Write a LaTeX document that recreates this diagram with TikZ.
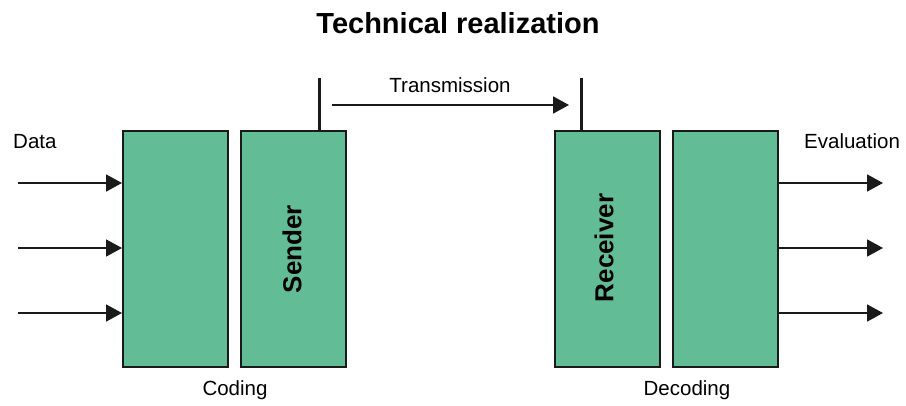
\documentclass[tikz,border=0pt]{standalone}
\usepackage{fontspec}
\setmainfont{Liberation Sans}
\usetikzlibrary{arrows.meta}
\definecolor{boxgreen}{RGB}{98,189,151}
\definecolor{ink}{RGB}{26,26,26}
\tikzset{
  block/.style={draw=ink, line width=2pt, fill=boxgreen, rectangle, inner sep=0pt,
    minimum width=105pt, minimum height=236pt},
  lbl/.style={inner sep=0pt, anchor=base, font=\fontsize{20.5}{24}\selectfont},
  vlbl/.style={inner sep=0pt, rotate=90, font=\fontsize{26}{30}\selectfont\bfseries},
  flow/.style={draw=ink, line width=1.8pt, -{Triangle[length=16pt,width=17pt]}},
  antenna/.style={draw=ink, line width=3pt}
}
\begin{document}
\begin{tikzpicture}[x=1pt,y=-1pt]
\useasboundingbox (0,0) rectangle (906,405);
\node[inner sep=0pt, anchor=base, font=\fontsize{29}{34}\selectfont\bfseries] (title) at (458,33) {Technical realization};
\node[block] (b1) at (175.5,249) {};
\node[block] (b2) at (293,249) {};
\node[block] (b3) at (607,249) {};
\node[block] (b4) at (725,249) {};
\node[vlbl] (snd) at (292,249) {Sender};
\node[vlbl] (rcv) at (604,248) {Receiver};
\node[lbl, anchor=base west] (data) at (13,148) {Data};
\node[lbl, anchor=base west] (eval) at (804,148) {Evaluation};
\node[lbl] (trans) at (450,92) {Transmission};
\node[lbl] (cod) at (235,395) {Coding};
\node[lbl] (dec) at (687,395) {Decoding};
% inputs
\coordinate (i1) at (18,183);
\coordinate (i2) at (18,248);
\coordinate (i3) at (18,313);
\draw[flow] (i1) -- (i1 -| b1.west);
\draw[flow] (i2) -- (i2 -| b1.west);
\draw[flow] (i3) -- (i3 -| b1.west);
% outputs
\coordinate (o1) at (883,183);
\coordinate (o2) at (883,248);
\coordinate (o3) at (883,313);
\draw[flow] (o1 -| b4.east) -- (o1);
\draw[flow] (o2 -| b4.east) -- (o2);
\draw[flow] (o3 -| b4.east) -- (o3);
% antennas
\coordinate (a1) at (319,78);
\coordinate (a2) at (581,78);
\draw[antenna] (a1) -- (a1 |- b2.north);
\draw[antenna] (a2) -- (a2 |- b3.north);
% transmission
\coordinate (t1) at (332,105);
\coordinate (t2) at (569,105);
\draw[flow] (t1) -- (t2);
\end{tikzpicture}
\end{document}
